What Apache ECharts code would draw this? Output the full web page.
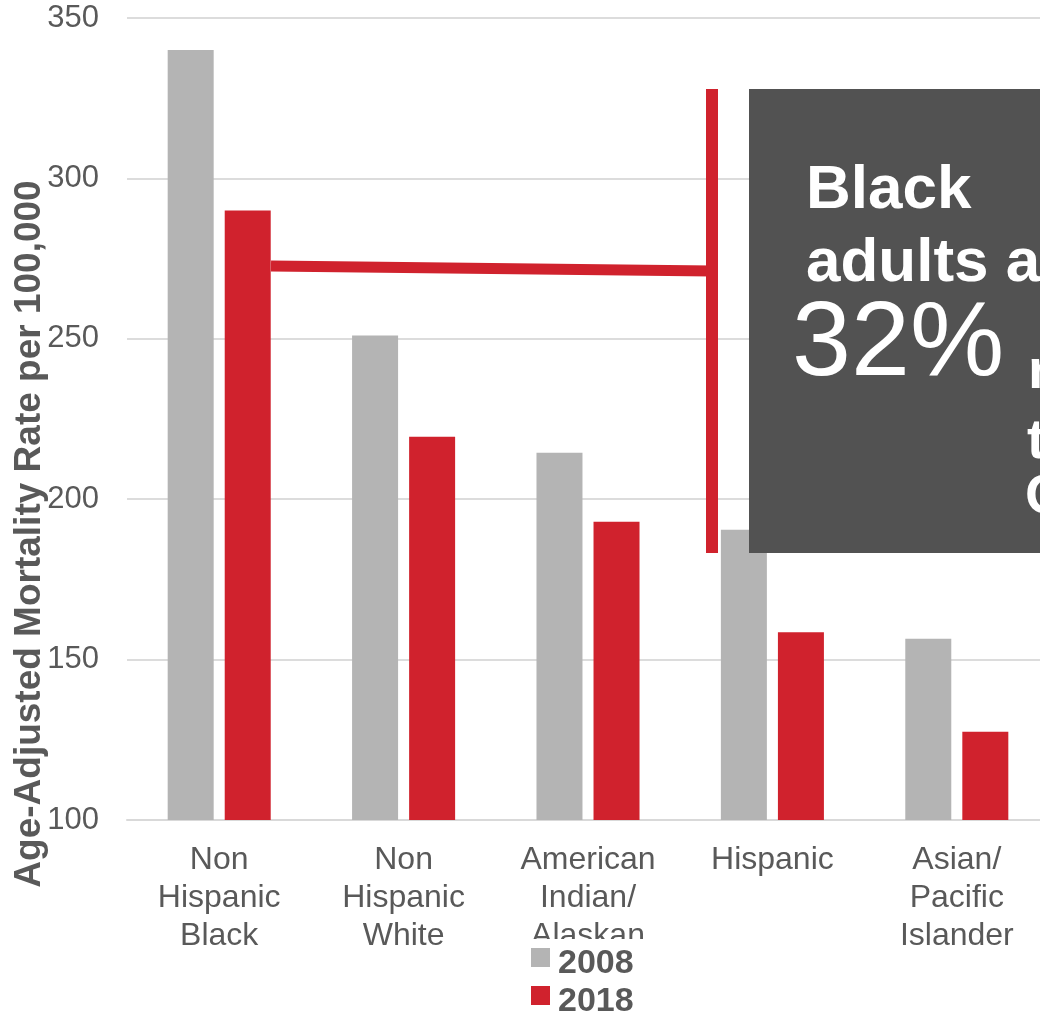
<!DOCTYPE html>
<html>
<head>
<meta charset="utf-8">
<script src="https://cdn.jsdelivr.net/npm/echarts@6/dist/echarts.min.js"></script>
<style>
html,body{margin:0;padding:0;background:#fff;overflow:hidden;width:1040px;height:1013px;}
#chart{width:1050px;height:1013px;}
</style>
</head>
<body>
<div id="chart"></div>
<script>
const categories = ['Non\nHispanic\nBlack', 'Non\nHispanic\nWhite', 'American\nIndian/\nAlaskan', 'Hispanic', 'Asian/\nPacific\nIslander'];
const rate2008 = [340, 251, 214.5, 190.5, 156.5];
const rate2018 = [290, 219.5, 193, 158.5, 127.5];
const seriesNames = ['2008', '2018'];
const yMin = 100, yMax = 350, yStep = 50;
const axisTitle = 'Age-Adjusted Mortality Rate per 100,000';

const FONT = '"Liberation Sans", Arial, sans-serif';
const TXT = '#595959';
const GRAY = '#b4b4b4';
const RED = '#d0222d';

const chart = echarts.init(document.getElementById('chart'), null, {renderer: 'canvas'});
chart.setOption({
  animation: false,
  backgroundColor: '#fff',
  textStyle: {fontFamily: FONT},
  grid: {left: 127, top: 18, bottom: 193, right: 1, containLabel: false},
  xAxis: {
    type: 'category',
    data: categories,
    axisLine: {show: true, lineStyle: {color: '#d9d9d9', width: 2}},
    axisTick: {show: false},
    axisLabel: {interval: 0, margin: 21, color: TXT, fontSize: 32, lineHeight: 38, fontFamily: FONT, align: 'center'}
  },
  yAxis: {
    type: 'value',
    min: yMin, max: yMax, interval: yStep,
    axisLine: {show: false},
    axisTick: {show: false},
    splitLine: {lineStyle: {color: '#dcdcdc', width: 2}},
    axisLabel: {margin: 28, color: TXT, fontSize: 31, fontFamily: FONT}
  },
  legend: {
    orient: 'vertical',
    left: 531, top: 933,
    width: 200, height: 200,
    padding: 0,
    itemGap: -11,
    itemWidth: 19, itemHeight: 19,
    icon: 'rect',
    formatter: function (name) { return '{s| }\n{t|' + name + '}'; },
    textStyle: {
      color: TXT, fontSize: 34, fontWeight: 'bold', fontFamily: FONT, lineHeight: 37,
      rich: {
        s: {fontSize: 1, lineHeight: 12},
        t: {color: TXT, fontSize: 34, fontWeight: 'bold', fontFamily: FONT, lineHeight: 37, padding: [0, 0, 0, 3]}
      }
    },
    data: seriesNames
  },
  series: [
    {name: seriesNames[0], type: 'bar', data: rate2008, barWidth: 46, barGap: '24%', itemStyle: {color: GRAY}},
    {name: seriesNames[1], type: 'bar', data: rate2018, barWidth: 46, itemStyle: {color: RED}}
  ],
  graphic: [
    {type: 'rect', z: 100, shape: {x: 515, y: 939, width: 140, height: 8}, style: {fill: '#fff'}},
    {type: 'text', z: 100, x: 30, y: 534, rotation: Math.PI / 2,
      style: {text: axisTitle, fill: TXT, font: 'bold 37px ' + FONT, align: 'center', verticalAlign: 'middle'}},
    {type: 'polyline', z: 100, shape: {points: [[271, 266], [712, 271]]}, style: {stroke: RED, lineWidth: 11, fill: null}},
    {type: 'line', z: 100, shape: {x1: 712, y1: 89, x2: 712, y2: 553}, style: {stroke: RED, lineWidth: 12}},
    {type: 'rect', z: 100, shape: {x: 749, y: 89, width: 320, height: 464}, style: {fill: '#525252'}},
    {type: 'text', z: 101, x: 806, y: 160, style: {text: 'Black', fill: '#fff', font: 'bold 62px ' + FONT, verticalAlign: 'top'}},
    {type: 'text', z: 101, x: 806, y: 233, style: {text: 'adults are', fill: '#fff', font: 'bold 62px ' + FONT, verticalAlign: 'top'}},
    {type: 'text', z: 101, x: 792, y: 293, style: {text: '32%', fill: '#fff', font: '106px ' + FONT, verticalAlign: 'top'}},
    {type: 'text', z: 101, x: 1028, y: 345, style: {text: 'more', fill: '#fff', font: 'bold 56px ' + FONT, verticalAlign: 'top'}},
    {type: 'text', z: 101, x: 1027, y: 415, style: {text: 'to', fill: '#fff', font: 'bold 56px ' + FONT, verticalAlign: 'top'}},
    {type: 'text', z: 101, x: 1025, y: 470, style: {text: 'CVD', fill: '#fff', font: 'bold 56px ' + FONT, verticalAlign: 'top'}}
  ]
});
</script>
</body>
</html>
